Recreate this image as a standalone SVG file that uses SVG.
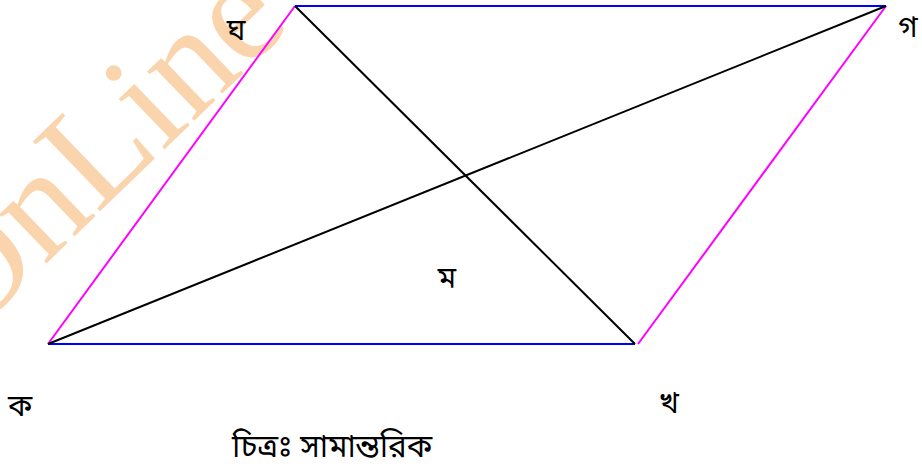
<svg xmlns="http://www.w3.org/2000/svg" width="922" height="471" viewBox="0 0 922 471">
<style>
.lbl{font-family:"Noto Sans Bengali","Noto Sans","Lohit Bengali","Vrinda",sans-serif;font-size:30px;fill:#000;text-anchor:middle}
.cap{font-family:"Noto Sans Bengali","Noto Sans","Lohit Bengali","Vrinda",sans-serif;font-size:31.5px;fill:#000}
.wm{font-family:"Liberation Serif",serif;font-size:148px;fill:#FAD4AC}
.mag{stroke:#FF00FF;stroke-width:2;fill:none}
.blu{stroke:#0000FF;stroke-width:2;fill:none}
.blk{stroke:#000;stroke-width:2;fill:none}
</style>
<rect width="922" height="471" fill="#fff"/>
<text class="wm" transform="translate(-33,340) rotate(-44)">OnLine</text>
<g id="connectors">
<line class="blu" x1="48" y1="344" x2="635" y2="344"/>
<line class="blu" x1="295" y1="6" x2="886" y2="6"/>
<line class="mag" x1="48" y1="344" x2="295" y2="6"/>
<line class="mag" x1="638" y1="344" x2="886" y2="6"/>
<line class="blk" x1="48" y1="344" x2="886" y2="6"/>
<line class="blk" x1="295" y1="6" x2="635" y2="344"/>
</g>
<g id="node-gha"><text class="lbl" x="236" y="40">ঘ</text></g>
<g id="node-ga"><text class="lbl" x="908" y="37">গ</text></g>
<g id="node-ma"><text class="lbl" x="447" y="288">ম</text></g>
<g id="node-ka"><text class="lbl" x="20" y="416">ক</text></g>
<g id="node-kha"><text class="lbl" x="669" y="413">খ</text></g>
<g id="caption"><text class="cap" x="232" y="457">চিত্রঃ সামান্তরিক</text></g>
</svg>
